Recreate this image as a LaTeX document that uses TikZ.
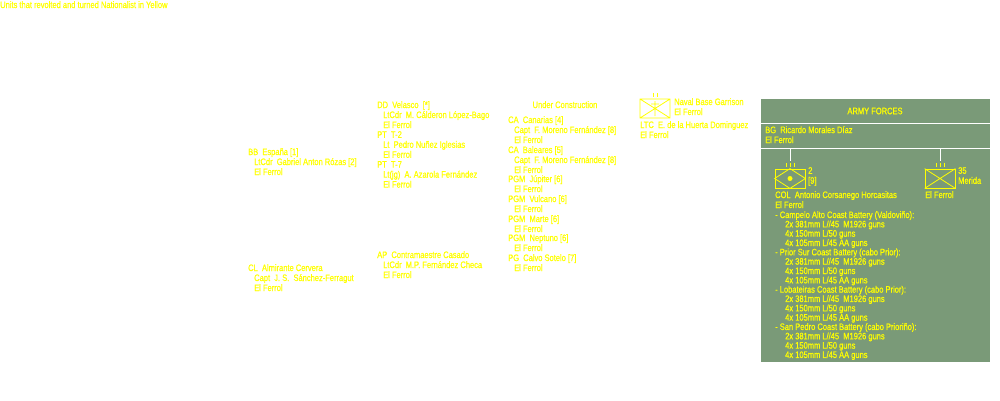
\documentclass[tikz,border=0pt]{standalone}
\usepackage{fontspec}
\setmainfont{Liberation Sans}[FakeStretch=0.8,FakeBold=0.8]
\definecolor{yel}{HTML}{FFFF00}
\definecolor{armyg}{HTML}{7A9A78}
\begin{document}
\begin{tikzpicture}[x=1pt,y=-1pt,
  t/.style={anchor=north west,inner sep=0pt,text=yel,align=left,font=\fontsize{9.4}{10}\selectfont},
  tb/.style={t,font=\fontsize{9.4}{9.33}\selectfont},
  sym/.style={draw=yel,line width=0.8pt},
  conn/.style={draw=white,line width=0.8pt}]
\useasboundingbox (0,0) rectangle (1000,400);
\fill[white] (0,0) rectangle (1000,400);
\node[t] (title) at (0,1) {Units that revolted and turned Nationalist in Yellow};
\node[t] (espana) at (248,148) {BB\ \ España [1]\\\hspace{6pt}LtCdr\ \ Gabriel Anton Rózas [2]\\\hspace{6pt}El Ferrol};
\node[t] (cervera) at (248,264) {CL\ \ Almirante Cervera\\\hspace{6pt}Capt\ \ J. S.\ \ Sánchez-Ferragut\\\hspace{6pt}El Ferrol};
\node[t] (velasco) at (377,101) {DD\ \ Velasco\ \ [*]\\\hspace{6pt}LtCdr\ \ M. Cálderon López-Bago\\\hspace{6pt}El Ferrol};
\node[t] (t2) at (377,131) {PT\ \ T-2\\\hspace{6pt}Lt\ \ Pedro Nuñez Iglesias\\\hspace{6pt}El Ferrol};
\node[t] (t7) at (377,161) {PT\ \ T-7\\\hspace{6pt}Lt(jg)\ \ A. Azarola Fernández\\\hspace{6pt}El Ferrol};
\node[t] (casado) at (377,251) {AP\ \ Contramaestre Casado\\\hspace{6pt}LtCdr\ \ M.P. Fernández Checa\\\hspace{6pt}El Ferrol};
\node[t,anchor=north] (uc) at (565,101) {Under Construction};
\node[t] (canarias) at (508,116) {CA\ \ Canarias [4]\\\hspace{6pt}Capt\ \ F. Moreno Fernández [8]\\\hspace{6pt}El Ferrol};
\node[t] (baleares) at (508,146) {CA\ \ Baleares [5]\\\hspace{6pt}Capt\ \ F. Moreno Fernández [8]\\\hspace{6pt}El Ferrol};
\node[t] (jupiter) at (508,175) {PGM\ \ Júpiter [6]\\\hspace{6pt}El Ferrol};
\node[t] (vulcano) at (508,195) {PGM\ \ Vulcano [6]\\\hspace{6pt}El Ferrol};
\node[t] (marte) at (508,215) {PGM\ \ Marte [6]\\\hspace{6pt}El Ferrol};
\node[t] (neptuno) at (508,234) {PGM\ \ Neptuno [6]\\\hspace{6pt}El Ferrol};
\node[t] (sotelo) at (508,254) {PG\ \ Calvo Sotelo [7]\\\hspace{6pt}El Ferrol};
% naval base garrison
\draw[sym] (640,99) rectangle (670,118) (640,99) -- (670,118) (640,118) -- (670,99) (655,101) -- (655,116) (651,104) -- (659,104);
\draw[sym] (653,93) -- (653,97) (657,93) -- (657,97);
\node[t] (nbg) at (674,98) {Naval Base Garrison\\El Ferrol};
\node[t] (huerta) at (640,121) {LTC\ \ E. de la Huerta Dominguez\\El Ferrol};
% army forces
\fill[armyg] (761,99) rectangle (990,362);
\draw[white,line width=0.8pt] (761,123.5) -- (990,123.5) (761,148.5) -- (990,148.5);
\node[t,anchor=center] (army) at (875,111) {ARMY FORCES};
\node[t] (bg) at (765,126) {BG\ \ Ricardo Morales Díaz\\El Ferrol};
\coordinate (c1) at (790,148.5);
\coordinate (c2) at (940,148.5);
\node[inner sep=0pt,minimum width=30pt,minimum height=19pt,sym] (b1) at (790,178.5) {};
\node[inner sep=0pt,minimum width=30pt,minimum height=19pt,sym] (b2) at (940,178.5) {};
\draw[conn] (c1) -- ++(0,12);
\draw[conn] (c2) -- ++(0,12);
\draw[sym] (786,163) -- (786,167) (790,163) -- (790,167) (794,163) -- (794,167);
\draw[sym] (936,163) -- (936,167) (940,163) -- (940,167) (944,163) -- (944,167);
\draw[sym] (b1.west) -- (b1.north) -- (b1.east) -- (b1.south) -- cycle;
\fill[yel] (b1.center) circle (2.5pt);
\draw[sym] (b2.north west) -- (b2.south east) (b2.south west) -- (b2.north east);
\node[t] (n2) at (808,167) {2\\{[}9]};
\node[t] (n35) at (958,167) {35\\Merida};
\node[t] (col) at (775,191) {COL\ \ Antonio Corsanego Horcasitas\\El Ferrol};
\node[t] (ef2) at (925,191) {El Ferrol};
\node[tb] (bat) at (775,211) {- Campelo Alto Coast Battery (Valdoviño):\\
\hspace{10pt}2x 381mm L//45\ \ M1926 guns\\\hspace{10pt}4x 150mm L/50 guns\\\hspace{10pt}4x 105mm L/45 AA guns\\
- Prior Sur Coast Battery (cabo Prior):\\
\hspace{10pt}2x 381mm L//45\ \ M1926 guns\\\hspace{10pt}4x 150mm L/50 guns\\\hspace{10pt}4x 105mm L/45 AA guns\\
- Lobateiras Coast Battery (cabo Prior):\\
\hspace{10pt}2x 381mm L//45\ \ M1926 guns\\\hspace{10pt}4x 150mm L/50 guns\\\hspace{10pt}4x 105mm L/45 AA guns\\
- San Pedro Coast Battery (cabo Prioriño):\\
\hspace{10pt}2x 381mm L//45\ \ M1926 guns\\\hspace{10pt}4x 150mm L/50 guns\\\hspace{10pt}4x 105mm L/45 AA guns};
\end{tikzpicture}
\end{document}
